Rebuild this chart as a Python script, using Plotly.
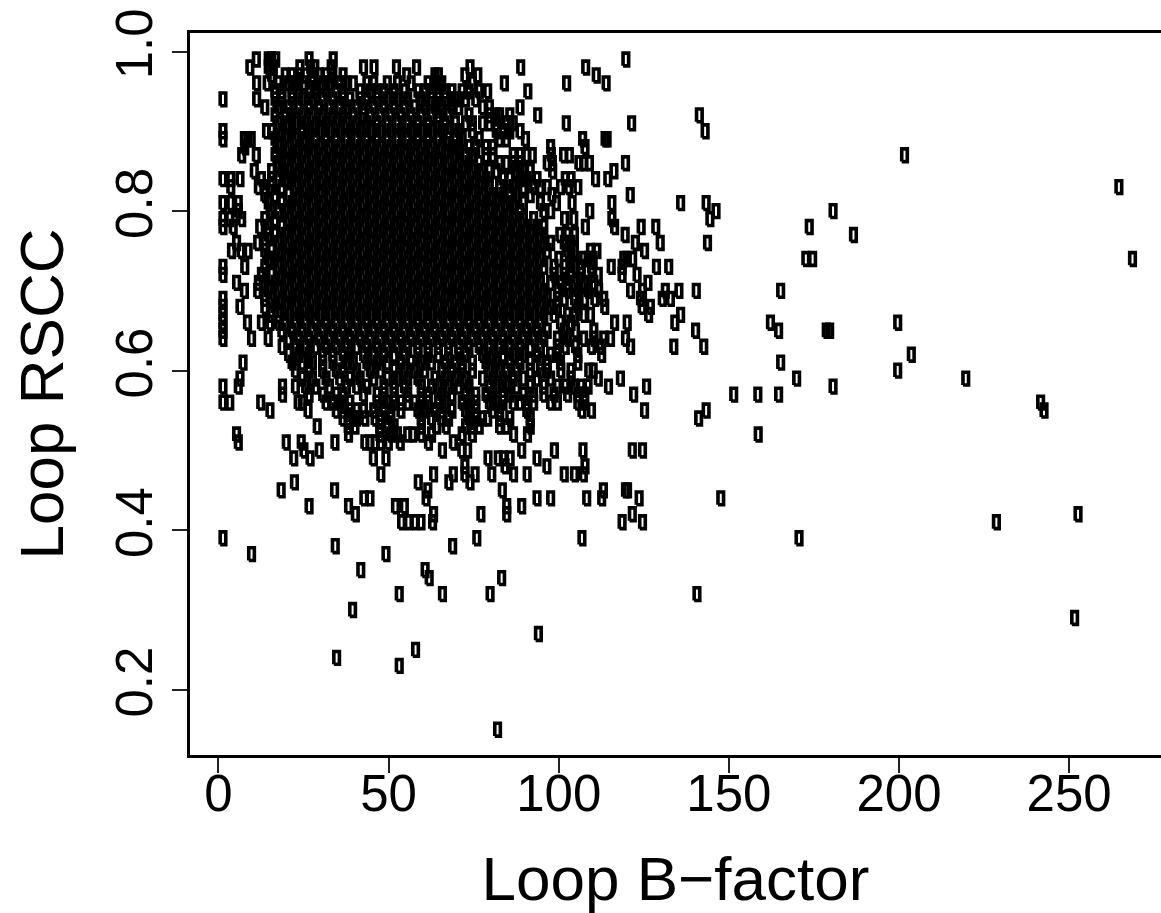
import plotly.graph_objects as go

b99 = [11.5,15,16,17.2,27,34.1,120.1]
b98 = [9.6,15,16.5,24.3,27.5,28.7,33.5,43,46.1,52.7,58.6,74.3,89.2,108.3]
b97 = [16,20,22,24,26,28,30,32,34,37,55.7,64,65,72.8,76.6,111.4]
b96 = [11.6,14.7,18,21,23,25.5,28,31,33,36,38,40,44,46,50,53,57,62,64,66,75,84.4,102.7,114.3]
b95 = [17,19,22,24,27,29,32,35,37,42,45,47,49,52,55,59,61,63,65,67,69,72,74,77,79.5,91.3]
b94 = [1.7,11.6,17,19,22,25,28,31,34,37,39,42,44,47,50,53,56,60,63,65,67,69,70,73,76]
b93 = [14,18,21,24,27,30,33,36,38,41,43,46,49,52,55,58,61,64,66,69,71,78,80,89]
b92 = [17,20,22,25,28,31,34,37,40,43,45,48,51,54,57,60,63,65,68,74,80,82,83,86,94.2,141.7]
b91 = [18,21,23,26,29,32,35,38,41,44,47,50,53,56,59,62,65,67,70,73,75,78,80,82,85,87,102.6,121.8]
b90 = [1.7,14.5,16,19,22,25,27,30,33,36,39,42,45,48,51,54,57,60,63,66,68,71,75,82,84,86,89,143.4]
b89 = [1.7,8,9,10,17,20,23,26,29,32,35,38,41,44,47,50,53,56,59,62,65,68,70,72,77,83,85,90.6,107.4,114,114.6]
b88 = [8.1,18,21,24,27,30,33,36,39,42,45,48,51,54,57,60,63,66,69,71,74,76,79,81,98,108.1]
b87 = [7.2,11.5,17,19,22,25,28,31,34,37,40,43,46,49,52,55,58,61,64,67,70,73,75,79,81,87,89,91,92.6,98.2,101.8,103.5,202]
b86 = [18,20,23,26,29,32,35,38,41,44,47,50,53,56,59,62,65,68,71,74,77,83,85,87,89,97,98.5,106.3,107.7,109.4,120]
b85 = [10.9,16,19,21,24,27,30,33,36,39,42,45,48,51,54,57,60,63,66,69,72,75,78,80,82,88,90,92,98.6,116.6]
b84 = [1.7,4,6.7,13,16,18,20,22,25,28,31,34,37,40,43,46,49,52,55,58,61,64,67,70,73,76,79,84,86,89,91,94,102.3,104,111.2,114.8]
b83 = [4,12.1,14,16,19,23,26,29,32,35,38,41,44,47,50,53,56,59,62,65,68,71,74,77,80,83,87,90,93,95,97,100.9,103.3,106,265]
b82 = [14,17,21,24,27,30,33,36,39,42,45,48,51,54,57,60,63,66,69,72,75,78,81,84,86,88,92,98.4,121.4]
b81 = [1.7,4,6.2,15,19,22,25,28,31,34,37,40,43,46,49,52,55,58,61,64,67,70,73,76,79,82,85,87,90,95,99.7,104.3,116,136.2,143.7]
b80 = [6.2,16,18,20,23,26,29,32,35,38,41,44,47,50,53,56,59,62,65,68,71,74,77,80,83,86,89,96,98,109.5,146.6,181]
b79 = [1.7,3.7,7.2,14,17,21,24,27,30,33,36,39,42,45,48,51,54,57,60,63,66,69,72,75,78,81,84,87,90,93,102.1,104.8,116,144.8]
b78 = [1.7,4.7,12.5,15,19,22,25,28,31,34,37,40,43,46,49,52,55,58,61,64,67,70,73,76,79,82,85,88,91,94,96,108.2,116.8,124.6,128.9,174]
b77 = [15,17,20,23,26,29,32,35,38,41,44,47,50,53,56,59,62,65,68,71,74,77,80,83,86,89,92,95,100.7,103,105,119.9,187]
b76 = [5.7,11.9,14,18,21,24,27,30,33,36,39,42,45,48,51,54,57,60,63,66,69,72,75,78,81,84,87,90,93,96,98,102,104,122.9,130.2,144.1]
b75 = [4.2,7,9.1,14,16,19,22,25,28,31,34,37,40,43,46,49,52,55,58,61,64,67,70,73,76,79,82,85,88,91,94,97,103,105,109.7,111.6,125.6]
b74 = [15,17,20,23,26,29,32,35,38,41,44,47,50,53,56,59,62,65,68,71,74,77,80,83,86,89,92,95,100.4,104,107.7,109,110.5,119.5,120.5,122.1,173,175,269]
b73 = [1.7,8.1,14,18,21,24,27,30,33,36,39,42,45,48,51,54,57,60,63,66,69,72,75,78,81,84,87,90,93,96,99,102,105,107,110,115.8,119,129.1,132.7]
b72 = [1.7,13,16,19,22,25,28,31,34,37,40,43,46,49,52,55,58,61,64,67,70,73,76,79,82,85,88,91,94,99,102,104,107,110.2,112,119,123.4]
b71 = [5.7,12.1,14,17,20,23,26,29,32,35,38,41,44,47,50,53,56,59,62,65,68,71,74,77,80,83,86,89,92,95,98,101,103,105,108,110.7,126.6]
b70 = [8,11.9,15,18,21,24,27,30,33,36,39,42,45,48,51,54,57,60,63,66,69,72,75,78,81,84,87,90,93,96,100,103,106,109,112.1,121.5,125,131.7,135.7,140.8,165.6]
b69 = [1.7,14,16,19,22,25,28,31,34,37,40,43,46,49,52,55,58,61,64,67,70,73,76,79,82,85,88,91,94,97,100,102,105,108,111,113.6,124.4,130.8,133.2]
b68 = [1.7,6.7,14,17,20,23,26,29,32,35,38,41,44,47,50,53,56,59,62,65,68,71,74,77,80,83,86,89,92,95,98,100,106,113.9,124.9,127.3]
b67 = [1.7,16,18,21,24,27,30,33,36,39,42,45,48,51,54,57,60,63,66,69,72,75,78,81,84,87,90,93,96,99,103,105,107.7,109.7,126.8,136.2]
b66 = [1.7,8.9,13,15.5,18,20,23,26,29,32,35,38,41,44,47,50,53,56,59,62,65,68,71,74,77,80,83,86,89,92,95,100.9,104,116.8,120.5,134.5,162.6,200]
b65 = [1.7,19,22,25,28,31,34,37,40,43,46,49,52,55,58,61,64,67,70,73,76,79,82,85,88,91,94,97,102,105.3,110.7,140.6,165,179,180]
b64 = [1.7,10.1,15,21,24,27,30,33,36,39,42,45,48,51,54,57,60,63,66,69,72,75,78,81,84,87,90,93,96,100,103,107.7,110.7,113.6,115.6,120]
b63 = [19.1,23,26,29,32,35,38,41,44,47,50,53,56,59,62,65,68,71,74,77,80,83,86,89,92,95,100,102.3,105.3,110,112.6,121.5,134.2,143]
b62 = [21,24,27,31,34,37,39,43,46,49,52,55,59,62,65,68,71,73,78,81,84,87,90,94,98,100,106,113,204]
b61 = [7.6,22,25,28,31,34,38,40,44,47,50,54,57,60,63,67,70,72,75,79,82,86,89,92,95,97,100.9,106,165.6]
b60 = [23,27,31,35,37,41,45,48,52,55,58,61,66,69,72,75,80,83,85,88,92,95,97,101,104,109.2,110.5,200]
b59 = [6.7,25,28,32,36,39,42,46,50,53,56,59,64,67,70,73,78,81,84,87,90,94,98,104,112,118.5,170.3,220]
b58 = [1.7,6.2,19.2,23,26,29,33,38,41,44,49,52,55,60,63,65,68,71,74,80,82,85,88,92,96,100,102.3,105,107,109,115,126.2,181]
b57 = [19.2,27,31,35,37,43,47,49,52,56,60,62,66,69,73,76,79,81,84,86,90,93,96,99,103,106,108,122.4,151.8,158.9,165]
b56 = [1.7,3.7,12.8,23.8,25,32,34,36,39,47,50,52,54,56,58,60,62,65,67,72,74,76,80,82,84,87,89,91,93,98,100,106,108,242]
b55 = [15.5,26.7,35,37,39,41,43,46,49,51,54,59,61,64,66,69,73,76,81,83,91,107.2,110,125.6,143.7,243]
b54 = [37,38.5,40,41,43.4,46.4,48,51,60,63,66,68,74,76,78,79.5,83,86,92,141.5]
b53 = [29.4,38.5,40.5,47.8,50,52,60,64.5,67.3,73,75,77,83,85,92]
b52 = [5.7,38.6,47.8,51,53,56,57.5,60,63,72,75,87.1,91.2,159]
b51 = [6.2,20.3,24.7,34.6,43.4,44.9,46.4,48.1,50.3,53.8,62.1,69.4]
b50 = [25.5,30,66.2,71.9,73.6,89.5,99.1,107.5,122,125]
b49 = [22.5,27.3,45.9,49.6,79.6,82.6,84.1,86.1,94]
b48 = [72.8,84.6,96.9,108.1]
b47 = [48.1,63.6,69.4,72.8,75.8,80.7,87.1,91.1,102,105,107.6]
b46 = [22.7,59.1,68.1,74.3]
b45 = [18.8,34.5,61.9,83.8,113.5,120,120.6]
b44 = [43.1,44.9,61.4,94,98,108.6,113,124,148]
b43 = [27,38.6,52.4,55,85.1,89.5]
b42 = [40.6,63.6,77.5,85.1,122,253]
b41 = [54.2,56.2,58.1,59.9,63.3,119,125,229]
b39 = [1.7,76.3,107.2,171]
b38 = [34.7,69.2]
b37 = [10.1,49.6]
b35 = [42.2,61.1]
b34 = [62.3,83.6]
b32 = [53.5,66.2,80.2,141]
b30 = [39.8]
b29 = [252]
b27 = [94.4]
b25 = [58.3]
b24 = [35.1]
b23 = [53.5]
b15 = [82.4]

rscc_levels = [.99,.98,.97,.96,.95,.94,.93,.92,.91,.90,.89,.88,.87,.86,.85,.84,.83,.82,.81,.80,
               .79,.78,.77,.76,.75,.74,.73,.72,.71,.70,.69,.68,.67,.66,.65,.64,.63,.62,.61,.60,
               .59,.58,.57,.56,.55,.54,.53,.52,.51,.50,.49,.48,.47,.46,.45,.44,.43,.42,.41,
               .39,.38,.37,.35,.34,.32,.30,.29,.27,.25,.24,.23,.15]
bfactor_rows = [b99,b98,b97,b96,b95,b94,b93,b92,b91,b90,b89,b88,b87,b86,b85,b84,b83,b82,b81,b80,
                b79,b78,b77,b76,b75,b74,b73,b72,b71,b70,b69,b68,b67,b66,b65,b64,b63,b62,b61,b60,
                b59,b58,b57,b56,b55,b54,b53,b52,b51,b50,b49,b48,b47,b46,b45,b44,b43,b42,b41,
                b39,b38,b37,b35,b34,b32,b30,b29,b27,b25,b24,b23,b15]

bfactor = [v - 0.38 for row in bfactor_rows for v in row]
rscc = [lvl for lvl, row in zip(rscc_levels, bfactor_rows) for _ in row]

x_ticks = [0, 50, 100, 150, 200, 250]
y_ticks = [0.2, 0.4, 0.6, 0.8, 1.0]
y_tick_text = ["0.2", "0.4", "0.6", "0.8", "1.0"]

# each point is drawn as a small open rectangle around its (bfactor, rscc) position
half_w = 0.82
half_h = 0.0080
outline_x, outline_y = [], []
for bx, ry in zip(bfactor, rscc):
    outline_x += [bx - half_w, bx + half_w, bx + half_w, bx - half_w, bx - half_w, None]
    outline_y += [ry - half_h, ry - half_h, ry + half_h, ry + half_h, ry - half_h, None]

fig = go.Figure(go.Scatter(
    x=outline_x, y=outline_y, mode="lines", connectgaps=False,
    line=dict(color="black", width=3.6), hoverinfo="skip",
))
fig.update_layout(
    width=1161, height=913, showlegend=False,
    margin=dict(l=189.8, r=0, t=33.2, b=157.8),
    paper_bgcolor="white", plot_bgcolor="white",
    font=dict(family="Liberation Sans", color="black"),
)
fig.update_xaxes(
    range=[-8.37, 277.0], tickvals=x_ticks, ticks="outside", ticklen=15, tickwidth=1.5,
    tickcolor="#222222", showgrid=False, zeroline=False, showline=True, linewidth=3,
    linecolor="black", mirror=True, tickfont=dict(size=51), automargin=False,
    ticklabelstandoff=-23,
    title=dict(text="Loop B\u2212factor", font=dict(size=62), standoff=37),
)
fig.update_yaxes(
    range=[0.1183, 1.0232], tickvals=y_ticks, ticktext=y_tick_text, ticks="outside",
    ticklen=15, tickwidth=1.5, tickcolor="#222222", showgrid=False, zeroline=False,
    showline=True, linewidth=3, linecolor="black", tickangle=-90, tickfont=dict(size=51),
    automargin=False,
    title=dict(text="Loop RSCC", font=dict(size=62), standoff=22),
)
fig.write_html(
    "out.html",
    config={"displayModeBar": False},
    post_script="document.body.style.margin='0';document.body.style.overflow='hidden';",
)
